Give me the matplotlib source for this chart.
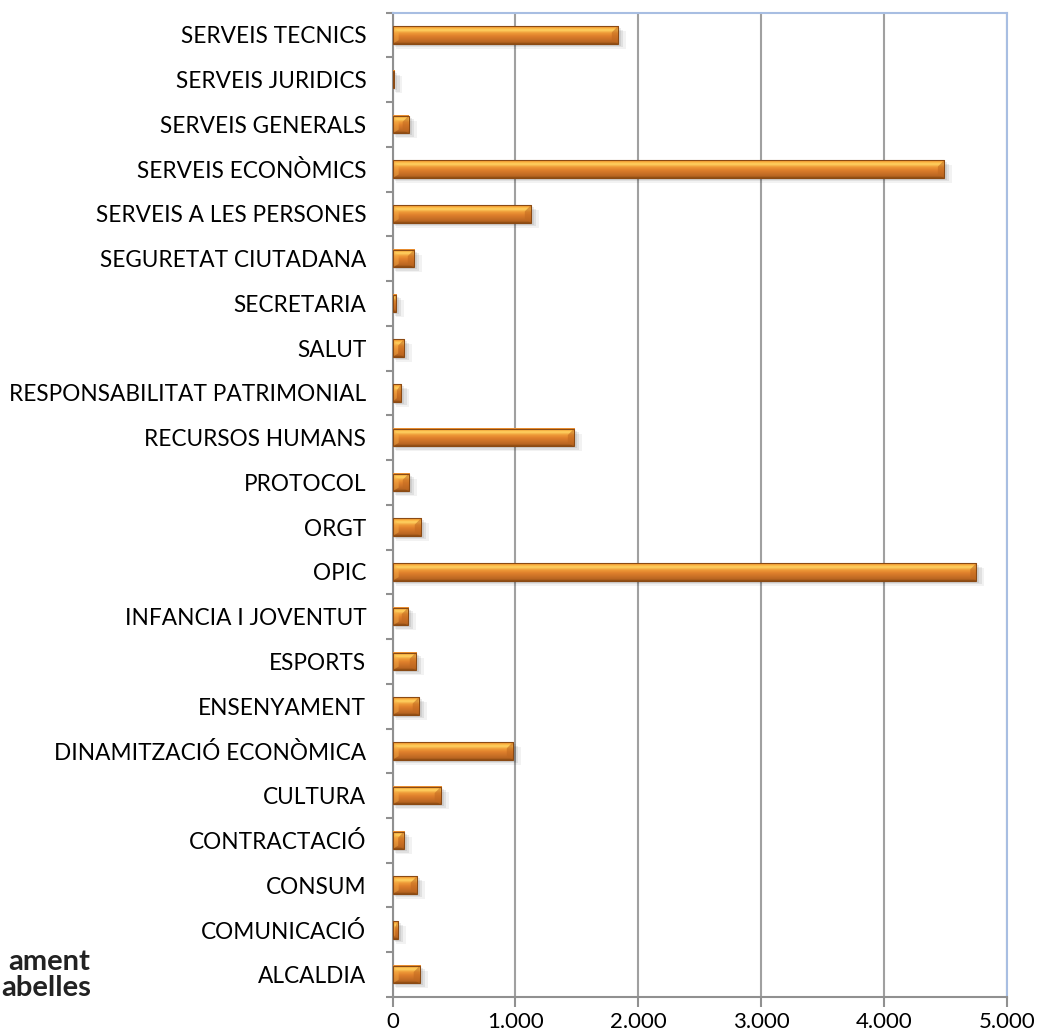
import numpy as np
import matplotlib
matplotlib.use("Agg")
import matplotlib.pyplot as plt
from matplotlib.colors import LinearSegmentedColormap
from matplotlib.patches import Rectangle, Polygon

categories = ["ALCALDIA", "COMUNICACIÓ", "CONSUM", "CONTRACTACIÓ", "CULTURA",
              "DINAMITZACIÓ ECONÒMICA", "ENSENYAMENT", "ESPORTS", "INFANCIA I JOVENTUT",
              "OPIC", "ORGT", "PROTOCOL", "RECURSOS HUMANS", "RESPONSABILITAT PATRIMONIAL",
              "SALUT", "SECRETARIA", "SEGURETAT CIUTADANA", "SERVEIS A LES PERSONES",
              "SERVEIS ECONÒMICS", "SERVEIS GENERALS", "SERVEIS JURIDICS", "SERVEIS TECNICS"]
values = [220, 41, 196, 90, 391, 978, 212, 188, 123, 4752, 229, 131, 1475, 68,
          90, 25, 172, 1125, 4488, 130, 12, 1833]
xticks = [0, 1000, 2000, 3000, 4000, 5000]
xtick_labels = ["0", "1.000", "2.000", "3.000", "4.000", "5.000"]

plt.rcParams['font.family'] = ['Lato', 'DejaVu Sans']

fig = plt.figure(figsize=(10.41, 10.34), dpi=100)
ax = fig.add_axes([0.3772, 0.0358, 0.9671 - 0.3772, 0.9878 - 0.0358])

n = len(categories)
ypos = np.arange(n)
h = 0.39

grad = LinearSegmentedColormap.from_list("bar", [
    (0.0, "#8A4A12"), (0.10, "#B86522"), (0.45, "#E0802C"),
    (0.62, "#EE9A38"), (0.78, "#FFD462"), (0.90, "#FBB040"), (1.0, "#E8862C")])
g = np.linspace(0, 1, 64).reshape(-1, 1)

ax.set_xlim(0, 5000)
ax.set_ylim(-0.5, n - 0.5)

x_per_px = 5000 / 614.0
y_per_px = n / 984.0

for y, v in zip(ypos, values):
    y0, y1 = y - h / 2, y + h / 2
    for k, a in [(5, 0.05), (3.5, 0.07), (2, 0.08)]:
        ax.add_patch(Rectangle((k * 0.6 * x_per_px, y0 - k * y_per_px), v + k * x_per_px, h,
                               facecolor="#000000", alpha=a, lw=0, zorder=2))
    ax.imshow(g, cmap=grad, aspect="auto", extent=(0, v, y0, y1),
              origin="lower", zorder=3, interpolation="bilinear")
    bx = min(6 * x_per_px, v / 2)
    ax.add_patch(Polygon([(v, y0), (v, y1), (v - bx, y1 - 0.35 * h), (v - bx, y0 + 0.2 * h)],
                         closed=True, facecolor="#C06820", alpha=0.55, lw=0, zorder=4))
    ax.add_patch(Polygon([(0, y1), (bx, y1 - 0.35 * h), (bx, y0 + 0.2 * h), (0, y0)],
                         closed=True, facecolor="#F8B048", alpha=0.45, lw=0, zorder=4))
    ax.add_patch(Rectangle((0, y0), v, h, facecolor="none", edgecolor="#8A4A14",
                           lw=0.8, zorder=5))

ax.set_xticks(xticks)
ax.set_xticklabels(xtick_labels)
ax.set_yticks(ypos)
ax.set_yticklabels(categories)
ax.set_yticks(np.arange(-0.5, n, 1.0), minor=True)

ax.tick_params(axis="y", which="major", length=0, pad=19, labelsize=16.3)
ax.tick_params(axis="y", which="minor", length=5, width=1.5, color="#909090", direction="out")
ax.tick_params(axis="x", which="major", length=7, width=1.5, color="#909090",
               direction="out", pad=4, labelsize=16)

ax.grid(axis="x", color="#A0A0A0", lw=1.5, zorder=1)
ax.set_axisbelow(True)

for s in ["left", "bottom"]:
    ax.spines[s].set_color("#909090")
    ax.spines[s].set_linewidth(1.5)
for s in ["top", "right"]:
    ax.spines[s].set_color("#A8BEE2")
    ax.spines[s].set_linewidth(1.5)

# partial logo text at bottom left
fig.text(8 / 1041, 1 - 962 / 1034, "ament", ha="left", va="center",
         fontsize=21, fontweight="bold", color="#222222")
fig.text(1 / 1041, 1 - 988 / 1034, "abelles", ha="left", va="center",
         fontsize=21, fontweight="bold", color="#222222")

fig.savefig("out.png", dpi=100)
